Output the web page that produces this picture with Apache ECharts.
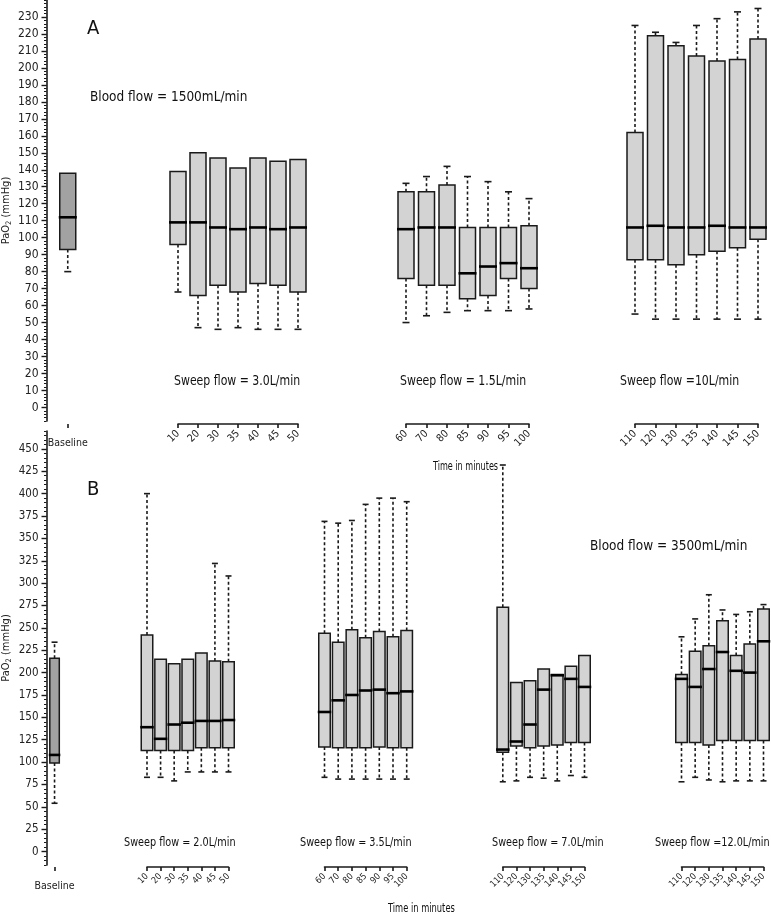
<!DOCTYPE html>
<html>
<head>
<meta charset="utf-8">
<title>PaO2 during sweep flow steps</title>
<script src="https://cdn.jsdelivr.net/npm/echarts@6.0.0/dist/echarts.min.js"></script>
<style>
  html, body { margin: 0; padding: 0; background: #fff; }
  #main { width: 771px; height: 916px; }
</style>
</head>
<body>
<div id="main"></div>
<script>
// time points (minutes) under each little x axis
var times1 = ['10', '20', '30', '35', '40', '45', '50'];
var times2 = ['60', '70', '80', '85', '90', '95', '100'];
var times3 = ['110', '120', '130', '135', '140', '145', '150'];

// y axis tick labels
var ticksA = [0, 10, 20, 30, 40, 50, 60, 70, 80, 90, 100, 110, 120, 130, 140, 150, 160, 170, 180, 190, 200, 210, 220, 230];
var ticksB = [0, 25, 50, 75, 100, 125, 150, 175, 200, 225, 250, 275, 300, 325, 350, 375, 400, 425, 450];

// boxes: [low whisker, Q1, median, Q3, high whisker]  (PaO2, mmHg)
// panel A, blood flow 1500 mL/min
var baseA = [[80, 93, 112, 138, 138]];
var sweep30A = [
  [68, 96, 109, 139, 139],
  [47, 66, 109, 150, 150],
  [46, 72, 106, 147, 147],
  [47, 68, 105, 141, 141],
  [46, 73, 106, 147, 147],
  [46, 72, 105, 145, 145],
  [46, 68, 106, 146, 146]
];
var sweep15A = [
  [50, 76, 105, 127, 132],
  [54, 72, 106, 127, 136],
  [56, 72, 106, 131, 142],
  [57, 64, 79, 106, 136],
  [57, 66, 83, 106, 133],
  [57, 76, 85, 106, 127],
  [58, 70, 82, 107, 123]
];
var sweep10A = [
  [55, 87, 106, 162, 225],
  [52, 87, 107, 219, 221],
  [52, 84, 106, 213, 215],
  [52, 90, 106, 207, 225],
  [52, 92, 107, 204, 229],
  [52, 94, 106, 205, 233],
  [52, 99, 106, 217, 235]
];

// panel B, blood flow 3500 mL/min
var baseB = [[54, 99, 108, 216, 234]];
var sweep20B = [
  [83, 113, 139, 242, 400],
  [83, 113, 126, 215, 215],
  [79, 113, 142, 210, 210],
  [89, 113, 144, 215, 215],
  [89, 116, 146, 222, 222],
  [89, 116, 146, 213, 322],
  [89, 116, 147, 212, 308]
];
var sweep35B = [
  [83, 117, 156, 244, 369],
  [81, 116, 169, 234, 367],
  [81, 116, 175, 248, 370],
  [81, 116, 180, 239, 388],
  [81, 117, 181, 246, 395],
  [81, 116, 177, 240, 395],
  [81, 116, 179, 247, 391]
];
var sweep70B = [
  [78, 111, 114, 273, 432],
  [79, 118, 123, 189, 189],
  [83, 116, 142, 191, 191],
  [82, 118, 181, 204, 204],
  [79, 119, 197, 198, 198],
  [85, 122, 193, 207, 207],
  [83, 122, 184, 219, 219]
];
var sweep120B = [
  [78, 122, 193, 198, 240],
  [83, 122, 184, 224, 260],
  [80, 119, 204, 230, 287],
  [78, 124, 223, 258, 270],
  [79, 124, 202, 219, 265],
  [79, 124, 200, 232, 268],
  [79, 124, 235, 271, 276]
];

var FONT = "'Liberation Sans Narrow', 'DejaVu Sans Condensed', 'Liberation Sans', sans-serif";
var INK = '#1a1a1a';

var panelA = { top: -2, height: 423, min: -8, max: 240, minor: 2, xOffset: 3, boxW: 16, capW: 7, ticks: ticksA, labelSize: 12, timeSize: 10.5 };
var panelB = { top: 431, height: 434, min: -15, max: 470, minor: 5, xOffset: 2, boxW: 11.5, capW: 6, ticks: ticksB, labelSize: 11.5, timeSize: 9 };

var grids = [], xAxes = [], yAxes = [], series = [];

function drawBox(api, boxW, capW, fill) {
  var i = api.value(0);
  var x = api.coord([i, 0])[0];
  var low = api.value(1), q1 = api.value(2), med = api.value(3), q3 = api.value(4), high = api.value(5);
  var yLow = api.coord([i, low])[1];
  var yQ1 = api.coord([i, q1])[1];
  var yMed = api.coord([i, med])[1];
  var yQ3 = api.coord([i, q3])[1];
  var yHigh = api.coord([i, high])[1];
  var dash = { stroke: INK, lineWidth: 1.6, lineDash: [3, 2.5] };
  var cap = { stroke: INK, lineWidth: 1.6 };
  var children = [];
  if (low < q1) {
    children.push({ type: 'line', shape: { x1: x, y1: yQ1, x2: x, y2: yLow }, style: dash });
    children.push({ type: 'line', shape: { x1: x - capW / 2, y1: yLow, x2: x + capW / 2, y2: yLow }, style: cap });
  }
  if (high > q3) {
    children.push({ type: 'line', shape: { x1: x, y1: yQ3, x2: x, y2: yHigh }, style: dash });
    children.push({ type: 'line', shape: { x1: x - capW / 2, y1: yHigh, x2: x + capW / 2, y2: yHigh }, style: cap });
  }
  children.push({
    type: 'rect',
    shape: { x: x - boxW / 2, y: yQ3, width: boxW, height: yQ1 - yQ3 },
    style: { fill: fill, stroke: INK, lineWidth: 1.5 }
  });
  children.push({
    type: 'line',
    shape: { x1: x - boxW / 2 - 1, y1: yMed, x2: x + boxW / 2 + 1, y2: yMed },
    style: { stroke: '#000', lineWidth: 2.6 }
  });
  return { type: 'group', children: children };
}

function addGroup(p, left, width, cats, boxes, isBase, boxW) {
  var gi = grids.length;
  var bw = boxW || p.boxW;
  var fill = isBase ? '#a2a2a2' : '#d3d3d3';
  grids.push({ left: left, width: width, top: p.top, height: p.height });
  xAxes.push({
    gridIndex: gi,
    type: 'category',
    data: cats,
    boundaryGap: isBase,
    position: 'bottom',
    offset: p.xOffset,
    axisLine: { show: !isBase, onZero: false, lineStyle: { color: INK, width: 1.6 } },
    axisTick: { show: true, interval: 0, alignWithLabel: true, length: 4, lineStyle: { color: INK, width: 1.6 } },
    axisLabel: isBase
      ? { interval: 0, margin: 14, fontSize: 10.5, color: '#222', fontFamily: FONT }
      : { interval: 0, rotate: 45, margin: 8, fontSize: p.timeSize, color: '#222', fontFamily: FONT },
    splitLine: { show: false }
  });
  var yi = yAxes.length;
  yAxes.push({ gridIndex: gi, type: 'value', min: p.min, max: p.max, show: false });
  series.push({
    type: 'custom',
    xAxisIndex: gi,
    yAxisIndex: yi,
    data: boxes.map(function (b, k) { return [k].concat(b); }),
    encode: { x: 0, y: [1, 2, 3, 4, 5] },
    renderItem: function (params, api) { return drawBox(api, bw, p.capW, fill); },
    silent: true,
    z: 3
  });
  return gi;
}

function addYAxis(p, gi) {
  yAxes.push({
    gridIndex: gi,
    type: 'value',
    min: p.min,
    max: p.max,
    position: 'left',
    axisLine: { show: true, onZero: false, lineStyle: { color: INK, width: 1.6 } },
    axisTick: { show: true, customValues: p.ticks, length: 5, lineStyle: { color: INK, width: 1.4 } },
    axisLabel: { customValues: p.ticks, margin: 8, fontSize: p.labelSize, color: '#222', fontFamily: FONT },
    splitLine: { show: false },
    name: '{t|PaO}{s|2}{t| (mmHg)}',
    nameLocation: 'middle',
    nameRotate: 90,
    nameGap: 33,
    nameTextStyle: {
      rich: {
        t: { fontSize: 11, fontFamily: FONT, color: '#222' },
        s: { fontSize: 7.5, fontFamily: FONT, color: '#222', padding: [6, 0, 0, 0] }
      }
    }
  });
  // small ruler ticks along the axis
  yAxes.push({
    gridIndex: gi,
    type: 'value',
    min: p.min,
    max: p.max,
    interval: p.minor,
    position: 'left',
    axisLine: { show: false, onZero: false },
    axisTick: { show: true, length: 2.5, lineStyle: { color: INK, width: 1 } },
    axisLabel: { show: false },
    splitLine: { show: false }
  });
}

// panel A
var gA = addGroup(panelA, 45, 44, ['Baseline'], baseA, true);
addYAxis(panelA, gA);
addGroup(panelA, 178, 120, times1, sweep30A, false);
addGroup(panelA, 406, 123, times2, sweep15A, false);
addGroup(panelA, 635, 123, times3, sweep10A, false);

// panel B
var gB = addGroup(panelB, 45, 17.6, ['Baseline'], baseB, true, 9.5);
addYAxis(panelB, gB);
addGroup(panelB, 147, 81.5, times1, sweep20B, false);
addGroup(panelB, 324.5, 82.2, times2, sweep35B, false);
addGroup(panelB, 502.8, 81.7, times3, sweep70B, false);
addGroup(panelB, 681.5, 82, times3, sweep120B, false);

function txt(text, x, y, size, sx) {
  return {
    type: 'text',
    x: x,
    y: y,
    scaleX: sx || 1,
    silent: true,
    style: { text: text, fontSize: size, fontFamily: FONT, fill: '#111', align: 'left', verticalAlign: 'middle' }
  };
}

var option = {
  animation: false,
  backgroundColor: '#fff',
  grid: grids,
  xAxis: xAxes,
  yAxis: yAxes,
  series: series,
  graphic: [
    txt('A', 87, 29, 20),
    txt('Blood flow = 1500mL/min', 90, 97, 14.5, 0.93),
    txt('Sweep flow = 3.0L/min', 174, 381, 13.5, 0.9),
    txt('Sweep flow = 1.5L/min', 400, 381, 13.5, 0.9),
    txt('Sweep flow =10L/min', 620, 381, 13.5, 0.9),
    txt('Time in minutes', 433, 467, 12, 0.75),
    txt('B', 87, 490, 20),
    txt('Blood flow = 3500mL/min', 590, 546, 14.5, 0.93),
    txt('Sweep flow = 2.0L/min', 124, 843, 12.5, 0.86),
    txt('Sweep flow = 3.5L/min', 300, 843, 12.5, 0.86),
    txt('Sweep flow = 7.0L/min', 492, 843, 12.5, 0.86),
    txt('Sweep flow =12.0L/min', 655, 843, 12.5, 0.86),
    txt('Time in minutes', 388, 909, 12, 0.77)
  ]
};

var chart = echarts.init(document.getElementById('main'));
chart.setOption(option);
</script>
</body>
</html>
